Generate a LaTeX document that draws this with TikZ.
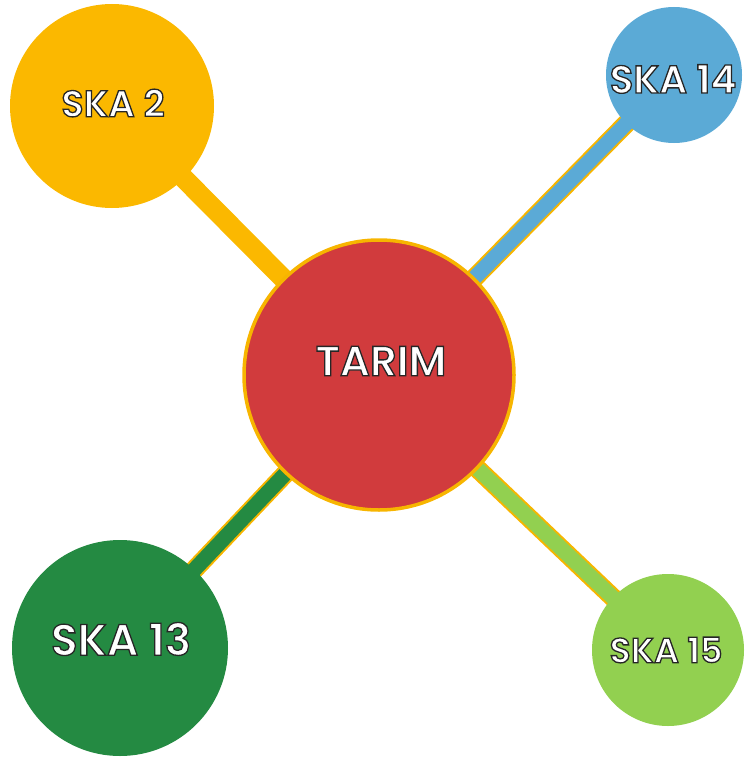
\documentclass[tikz,border=0pt]{standalone}
\usepackage{fontspec}
\setmainfont{Poppins}[BoldFont={Poppins SemiBold}]
\definecolor{cyel}{HTML}{FBB800}
\definecolor{cblue}{HTML}{5BAAD6}
\definecolor{cdgreen}{HTML}{248A42}
\definecolor{clgreen}{HTML}{92D050}
\definecolor{cred}{HTML}{D13B3D}
\definecolor{cborder}{HTML}{F7B500}
\newcommand{\outlined}[1]{\textcolor{white}{\special{pdf:literal direct 2 Tr 1.3 w 0.15 0.15 0.15 RG}#1\special{pdf:literal direct 0 Tr}}}
\begin{document}
\begin{tikzpicture}[x=1pt,y=-1pt,
  bubble/.style={circle, inner sep=0pt, text=white},
  linkouter/.style={line width=19pt, draw=cborder},
  linkinner/.style={line width=15pt},
  label/.style={text=white, inner sep=0pt},
]
\useasboundingbox (0,0) rectangle (744,760);
% nodes (placed first to name them)
\node[bubble, minimum size=204pt] (s2) at (112,106) {};
\node[bubble, minimum size=136pt] (s14) at (674,75) {};
\node[bubble, minimum size=216pt] (s13) at (120,648) {};
\node[bubble, minimum size=152pt] (s15) at (668,650) {};
\coordinate (tc) at (379,375);
% connectors
\draw[line width=20pt, draw=cyel] (s2.center) -- (tc);
\draw[linkouter] (s14.center) -- (tc);
\draw[linkinner, draw=cblue] (s14.center) -- (tc);
\draw[linkouter] (s13.center) -- (tc);
\draw[linkinner, draw=cdgreen] (s13.center) -- (tc);
\draw[linkouter] (s15.center) -- (tc);
\draw[linkinner, draw=clgreen] (s15.center) -- (tc);
% bubbles over connectors
\fill[cyel] (s2.center) circle[radius=102pt];
\fill[cblue] (s14.center) circle[radius=68pt];
\fill[cdgreen] (s13.center) circle[radius=108pt];
\fill[clgreen] (s15.center) circle[radius=76pt];
\node[bubble, fill=cred, draw=cborder, line width=3.5pt, minimum size=270pt] (tarim) at (tc) {};
% labels
\node[label, font=\bfseries\fontsize{42}{42}\selectfont] at (381,361) {\outlined{TARIM}};
\node[label, font=\bfseries\fontsize{37}{37}\selectfont] at (113,103) {\outlined{SKA 2}};
\node[label, font=\bfseries\fontsize{39}{39}\selectfont] at (673,79) {\outlined{SKA 14}};
\node[label, font=\bfseries\fontsize{44}{44}\selectfont] at (121,639) {\outlined{SKA 13}};
\node[label, font=\bfseries\fontsize{35}{35}\selectfont] at (666,650) {\outlined{SKA 15}};
\end{tikzpicture}
\end{document}
